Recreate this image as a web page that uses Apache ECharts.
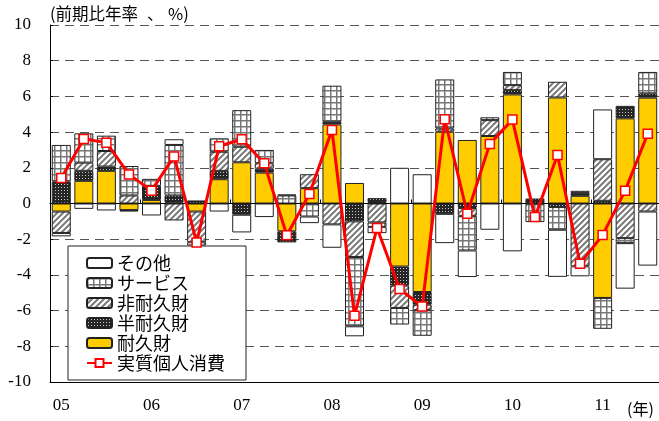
<!DOCTYPE html>
<html>
<head>
<meta charset="utf-8">
<script src="https://cdn.jsdelivr.net/npm/echarts@6/dist/echarts.min.js"></script>
<style>
  html, body { margin: 0; padding: 0; background: #fff; }
  #chart { width: 659px; height: 421px; }
</style>
</head>
<body>
<div id="chart"></div>
<script>
// Quarterly categories, 2005 Q1 – 2011 Q3
const categories = [
  '05Q1','05Q2','05Q3','05Q4','06Q1','06Q2','06Q3','06Q4',
  '07Q1','07Q2','07Q3','07Q4','08Q1','08Q2','08Q3','08Q4',
  '09Q1','09Q2','09Q3','09Q4','10Q1','10Q2','10Q3','10Q4',
  '11Q1','11Q2','11Q3'
];
const yearLabels = ['05', '06', '07', '08', '09', '10', '11'];
const yTicks = { min: -10, max: 10, step: 2 };

// Contributions (percentage points, annualised q/q)
const durable     = [-0.45, 1.27, 1.83, -0.37, 0.2, 0.05, -0.45, 1.36, 2.31, 1.73, -1.56, 0.86, 4.43, 1.15, 0.08, -3.53, -4.96, 4.02, 3.56, 3.78, 6.11, 0, 5.94, 0.43, -5.29, 4.77, 5.93];
const semiDurable = [1.23, 0.56, 0.24, -0.08, 0.79, 0.4, 0.17, 0.47, -0.63, 0.22, -0.62, 0, 0.15, -1.0, 0.22, -1.07, -0.71, -0.58, -0.25, 0, 0.24, 0.28, -0.2, 0.15, 0.15, 0.7, 0.24];
const nonDurable  = [-1.2, 0.46, 0.87, 0.45, 0, -0.95, -1.72, 1.07, 0.87, 0.3, 0, 0.78, -1.17, -2.0, -1.06, -1.25, -0.31, 0.18, -0.44, 0.89, 0.28, 0, 0.88, -3.52, 2.33, -1.94, -0.45];
const services    = [2.05, 1.64, 0.86, 1.65, 0.39, 2.83, -0.18, 0.75, 2.05, 0.75, 0.45, -0.73, 2.02, -3.88, -0.25, -0.93, -1.43, 2.75, -1.94, 0.16, 0.74, -1.04, -1.27, 0.13, -1.73, -0.28, 1.2];
const others      = [-0.19, -0.3, -0.39, 0, -0.67, 0.32, 0, -0.45, -0.99, -0.76, 0.05, -0.37, -1.31, -0.56, -0.35, 2.0, 1.64, -1.64, -1.49, -1.47, -2.68, 0, -2.64, -0.56, 2.79, -2.55, -3.03];
const realConsumption = [1.43, 3.62, 3.41, 1.63, 0.72, 2.64, -2.18, 3.21, 3.6, 2.25, -1.78, 0.53, 4.12, -6.29, -1.37, -4.79, -5.77, 4.72, -0.57, 3.34, 4.7, -0.76, 2.72, -3.37, -1.77, 0.72, 3.91];

// ---- fill patterns ----
function makePattern(size, draw) {
  const c = document.createElement('canvas');
  c.width = size; c.height = size;
  const g = c.getContext('2d');
  draw(g, size);
  return { image: c, repeat: 'repeat' };
}
const gridPattern = makePattern(6, (g, s) => {
  g.fillStyle = '#fff'; g.fillRect(0, 0, s, s);
  g.fillStyle = '#777';
  g.fillRect(0, 0, s, 1.5);
  g.fillRect(0, 0, 1.5, s);
});
const hatchPattern = makePattern(6, (g, s) => {
  g.fillStyle = '#fff'; g.fillRect(0, 0, s, s);
  g.strokeStyle = '#7a7a7a'; g.lineWidth = 2;
  g.beginPath();
  g.moveTo(0, s); g.lineTo(s, 0);
  g.moveTo(-s / 2, s / 2); g.lineTo(s / 2, -s / 2);
  g.moveTo(s / 2, s * 1.5); g.lineTo(s * 1.5, s / 2);
  g.stroke();
});
const dotPattern = makePattern(3, (g, s) => {
  g.fillStyle = '#262626'; g.fillRect(0, 0, s, s);
  g.fillStyle = '#c8c8c8'; g.fillRect(1, 1, 1, 1);
});

const nz = arr => arr.map(v => (v === 0 ? null : v));

const serif = 'Liberation Serif';
const sans = 'Noto Sans CJK JP';

function barSeries(name, data, fill) {
  return {
    name, type: 'bar', stack: 'total', data: nz(data),
    barWidth: 19,
    itemStyle: { color: fill, borderColor: '#222', borderWidth: 1 },
    emphasis: { disabled: true }
  };
}

const chart = echarts.init(document.getElementById('chart'), null, { renderer: 'canvas' });
chart.setOption({
  animation: false,
  grid: { left: 50, top: 25, bottom: 39, right: -7, containLabel: false },
  legend: {
    orient: 'vertical',
    left: 68, top: 246,
    data: ['その他', 'サービス', '非耐久財', '半耐久財', '耐久財', '実質個人消費'],
    selectedMode: false,
    backgroundColor: '#fff',
    borderColor: '#222', borderWidth: 1, borderRadius: 0,
    padding: [8, 21, 8, 18],
    itemWidth: 25, itemHeight: 10, itemGap: 2,
    textStyle: { fontFamily: sans, fontSize: 18, color: '#000', lineHeight: 18 }
  },
  xAxis: [
    {
      type: 'category', data: categories, position: 'bottom',
      axisLine: { onZero: true, lineStyle: { color: '#000', width: 1 } },
      axisTick: { show: true, inside: true, length: 4, interval: i => i % 4 === 0, lineStyle: { color: '#000' } },
      axisLabel: { show: false },
      splitLine: { show: false }
    },
    {
      type: 'category', data: categories, position: 'bottom',
      axisLine: { onZero: false, lineStyle: { color: '#000', width: 1 } },
      axisTick: { show: false },
      axisLabel: {
        interval: i => i % 4 === 0,
        formatter: (v, i) => yearLabels[Math.floor(i / 4)],
        fontFamily: serif, fontSize: 17, color: '#000', margin: 15
      },
      splitLine: { show: false }
    }
  ],
  yAxis: {
    type: 'value', min: yTicks.min, max: yTicks.max, interval: yTicks.step,
    axisLine: { show: true, lineStyle: { color: '#000', width: 1 } },
    axisTick: { show: true, inside: true, length: 3, lineStyle: { color: '#000' } },
    axisLabel: { fontFamily: serif, fontSize: 17, color: '#000', margin: 19 },
    splitLine: { show: true, lineStyle: { color: '#555', width: 1, type: [9, 6] } }
  },
  graphic: [
    { type: 'text', left: 50, top: 5, style: { text: '(前期比年率', font: '16.5px "Noto Sans CJK JP"', fill: '#000' } },
    { type: 'text', left: 147, top: 5, style: { text: '、', font: '16.5px "Noto Sans CJK JP"', fill: '#000' } },
    { type: 'text', left: 168, top: 5, style: { text: '%)', font: '16.5px "Noto Sans CJK JP"', fill: '#000' } },
    { type: 'text', left: 627, top: 401, style: { text: '(年)', font: '16px "Noto Sans CJK JP"', fill: '#000' } }
  ],
  series: [
    barSeries('耐久財', durable, '#FFCC00'),
    barSeries('半耐久財', semiDurable, dotPattern),
    barSeries('非耐久財', nonDurable, hatchPattern),
    barSeries('サービス', services, gridPattern),
    barSeries('その他', others, '#ffffff'),
    {
      name: '実質個人消費', type: 'line', data: realConsumption, z: 5,
      lineStyle: { color: '#FF0000', width: 3 },
      symbol: 'rect', symbolSize: 9,
      itemStyle: { color: '#fff', borderColor: '#FF0000', borderWidth: 1.5 },
      emphasis: { disabled: true }
    }
  ]
});
</script>
</body>
</html>
